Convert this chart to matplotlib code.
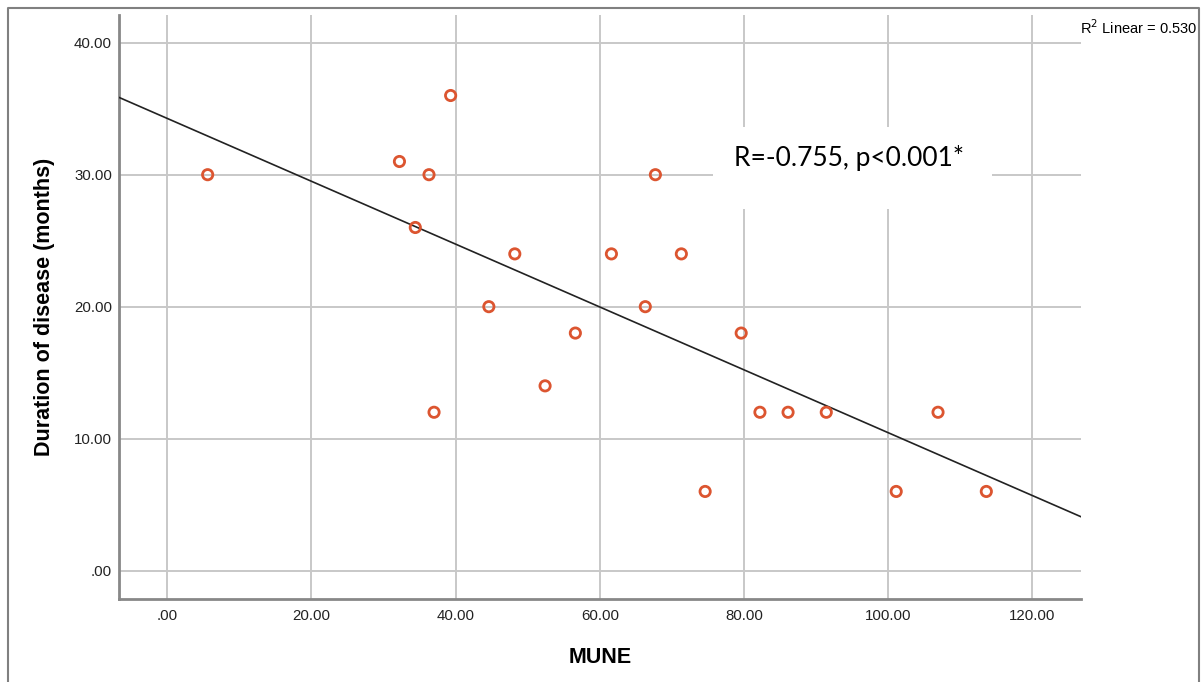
import matplotlib.pyplot as plt
import numpy as np

# MUNE vs. duration of disease
mune = [5.6, 32.2, 36.3, 34.4, 39.3, 37.0, 44.6, 48.2, 52.4, 56.6, 61.6,
        66.3, 67.7, 71.3, 74.6, 79.6, 82.2, 86.1, 91.4, 101.1, 106.9, 113.6]
duration = [30, 31, 30, 26, 36, 12, 20, 24, 14, 18, 24,
            20, 30, 24, 6, 18, 12, 12, 12, 6, 12, 6]

xticks = [0, 20, 40, 60, 80, 100, 120]
yticks = [0, 10, 20, 30, 40]

fig = plt.figure(figsize=(12.03, 6.82), dpi=100)
ax = fig.add_axes([0.0989, 0.1213, 0.7995, 0.8567])

xlim = (-6.7, 126.7)
ylim = (-2.17, 42.1)
ax.set_xlim(xlim)
ax.set_ylim(ylim)

ax.grid(True, color='#c8c8c8', linewidth=1.4)
ax.set_axisbelow(True)

# linear fit
b, a = np.polyfit(mune, duration, 1)
xx = np.array(xlim)
ax.plot(xx, a + b * xx, color='#222222', linewidth=1.2, zorder=3)

ax.scatter(mune, duration, s=55, facecolors='none', edgecolors='#dc5530',
           linewidths=2, zorder=4)

ax.set_xticks(xticks)
ax.set_yticks(yticks)
ax.set_xticklabels(['.00' if v == 0 else f'{v:.2f}' for v in xticks],
                   fontsize=10.8, family='Liberation Sans', color='#222222')
ax.set_yticklabels(['.00' if v == 0 else f'{v:.2f}' for v in yticks],
                   fontsize=10.8, family='Liberation Sans', color='#222222')
ax.tick_params(axis='x', length=0, pad=7)
ax.tick_params(axis='y', length=0, pad=5)

for s in ['top', 'right']:
    ax.spines[s].set_visible(False)
for s in ['left', 'bottom']:
    ax.spines[s].set_color('#888888')
    ax.spines[s].set_linewidth(2)

ax.set_xlabel('MUNE', fontsize=15.5, fontweight='bold', family='Liberation Sans',
              labelpad=17)
ax.set_ylabel('Duration of disease (months)', fontsize=15.5, fontweight='bold',
              family='Liberation Sans', labelpad=14)

# white box behind the annotation
ax.add_patch(plt.Rectangle((0.618, 0.668), 0.290, 0.140, transform=ax.transAxes,
                           facecolor='white', edgecolor='none', zorder=2.5))
ax.text(0.759, 0.755, 'R=-0.755, p<0.001*', transform=ax.transAxes,
        fontsize=19, family='Lato', va='center', ha='center', zorder=5)

fig.text(0.8975, 0.960, r'R$^2$ Linear = 0.530', fontsize=10.5,
         family='Liberation Sans', ha='left', va='center')

# outer frame (open at bottom)
fx = [8 / 1203, 8 / 1203, 1199 / 1203, 1199 / 1203]
fy = [0, 1 - 8 / 682, 1 - 8 / 682, 0]
fig.add_artist(plt.Line2D(fx, fy, transform=fig.transFigure,
                          color='#808080', linewidth=1.5))

fig.savefig('out.png', dpi=100)
